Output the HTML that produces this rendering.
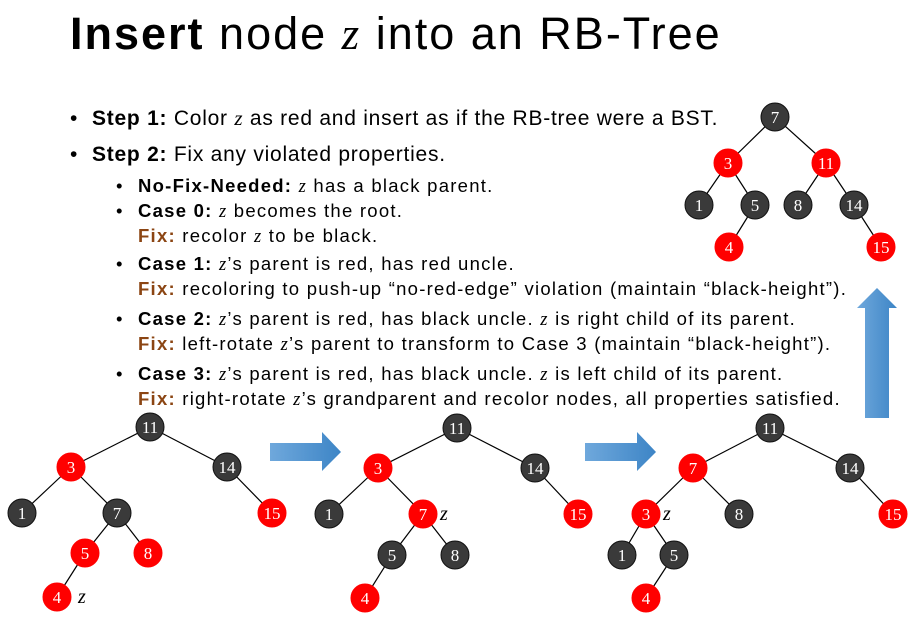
<!DOCTYPE html>
<html><head><style>
body{margin:0;width:914px;height:620px;background:#fff;overflow:hidden;position:relative;font-family:"Liberation Sans",sans-serif;color:#000}
.t{position:absolute;white-space:nowrap}
.z{font-family:"Liberation Serif",serif;font-style:italic}
.f{color:#8B4513;font-weight:bold}
.b{display:inline-block;width:22px}
.sub div{position:relative;white-space:nowrap;height:25px}
.sub .x{padding-left:22px}
</style></head><body>
<div class="t" style="left:70px;top:8px;font-size:45px;letter-spacing:2px"><b>Insert</b> node <span class="z">z</span> into an RB-Tree</div>
<div class="t" style="left:70px;top:106px;font-size:21px;letter-spacing:0.75px"><span class="b">•</span><b>Step 1:</b> Color <span class="z">z</span> as red and insert as if the RB-tree were a BST.</div>
<div class="t" style="left:70px;top:143px;font-size:21px;letter-spacing:0.75px"><span class="b">•</span><b>Step 2:</b> Fix any violated properties.</div>
<div class="sub" style="position:absolute;left:116px;top:173px;font-size:18.5px;line-height:25px;letter-spacing:1.25px">
<div><span class="b">•</span><b>No-Fix-Needed:</b> <span class="z">z</span> has a black parent.</div>
<div><span class="b">•</span><b>Case 0:</b> <span class="z">z</span> becomes the root.</div>
<div class="x"><span class="f">Fix:</span> recolor <span class="z">z</span> to be black.</div>
<div style="margin-top:3px"><span class="b">•</span><b>Case 1:</b> <span class="z">z</span>’s parent is red, has red uncle.</div>
<div class="x"><span class="f">Fix:</span> recoloring to push-up “no-red-edge” violation (maintain “black-height”).</div>
<div style="margin-top:5px"><span class="b">•</span><b>Case 2:</b> <span class="z">z</span>’s parent is red, has black uncle. <span class="z">z</span> is right child of its parent.</div>
<div class="x"><span class="f">Fix:</span> left-rotate <span class="z">z</span>’s parent to transform to Case 3 (maintain “black-height”).</div>
<div style="margin-top:5px"><span class="b">•</span><b>Case 3:</b> <span class="z">z</span>’s parent is red, has black uncle. <span class="z">z</span> is left child of its parent.</div>
<div class="x"><span class="f">Fix:</span> right-rotate <span class="z">z</span>’s grandparent and recolor nodes, all properties satisfied.</div>
</div>
<svg width="914" height="620" style="position:absolute;left:0;top:0" font-family="Liberation Serif,serif">
<defs><linearGradient id="g" x1="0" x2="1"><stop offset="0" stop-color="#6fa8dc"/><stop offset="1" stop-color="#3d85c6"/></linearGradient></defs>
<polygon points="270,443 322,443 322,432 341,452 322,471 322,461 270,461" fill="url(#g)"/>
<polygon points="585,443 637,443 637,432 656,452 637,471 637,461 585,461" fill="url(#g)"/>
<polygon points="865,418 865,308 857,308 877,288 897,308 889,308 889,418" fill="url(#g)"/>
<g stroke="#000" stroke-width="1.2" id="edges"></g>
<g id="nodes"></g>
<g font-size="20" font-style="italic">
<text x="78" y="603">z</text><text x="440" y="520">z</text><text x="663" y="520">z</text></g>
</svg>
<script>
const trees=[
{n:{7:[775,117,0],3:[728,163,1],11:[826,163,1],1:[699,205,0],5:[755,205,0],8:[798,205,0],14:[854,205,0],4:[729,247,1],15:[881,247,1]},e:[[7,3],[7,11],[3,1],[3,5],[11,8],[11,14],[5,4],[14,15]]},
{n:{11:[150,427,0],3:[71,467,1],14:[227,467,0],1:[22,513,0],7:[117,513,0],15:[272,513,1],5:[85,553,1],8:[148,553,1],4:[57,597,1]},e:[[11,3],[11,14],[3,1],[3,7],[14,15],[7,5],[7,8],[5,4]]},
{n:{11:[457,428,0],3:[378,468,1],14:[535,468,0],1:[329,514,0],7:[423,514,1],15:[578,514,1],5:[392,555,0],8:[455,555,0],4:[365,598,1]},e:[[11,3],[11,14],[3,1],[3,7],[14,15],[7,5],[7,8],[5,4]]},
{n:{11:[770,428,0],7:[693,468,1],14:[850,468,0],3:[646,514,1],8:[739,514,0],15:[893,514,1],1:[622,555,0],5:[674,555,0],4:[646,598,1]},e:[[11,7],[11,14],[7,3],[7,8],[14,15],[3,1],[3,5],[5,4]]}];
const NS="http://www.w3.org/2000/svg";const E=document.getElementById('edges'),N=document.getElementById('nodes');
for(const t of trees){for(const [a,b] of t.e){const l=document.createElementNS(NS,'line');const p=t.n[a],q=t.n[b];l.setAttribute('x1',p[0]);l.setAttribute('y1',p[1]);l.setAttribute('x2',q[0]);l.setAttribute('y2',q[1]);E.appendChild(l);}
for(const k in t.n){const [x,y,r]=t.n[k];const c=document.createElementNS(NS,'circle');c.setAttribute('cx',x);c.setAttribute('cy',y);c.setAttribute('r',14);c.setAttribute('fill',r?'#ff0000':'#3a3a3a');c.setAttribute('stroke',r?'#ff0000':'#111');N.appendChild(c);
const s=document.createElementNS(NS,'text');s.setAttribute('x',x);s.setAttribute('y',y+6);s.setAttribute('text-anchor','middle');s.setAttribute('fill','#fff');s.setAttribute('font-size','17');s.textContent=k;N.appendChild(s);}}
</script>
</body></html>
